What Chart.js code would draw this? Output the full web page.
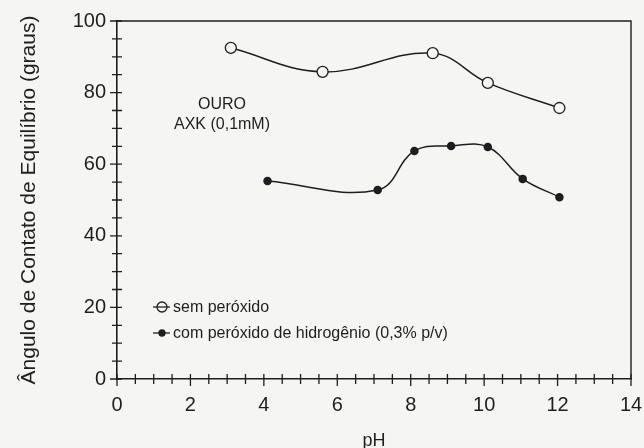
<!DOCTYPE html>
<html>
<head>
<meta charset="utf-8">
<script src="https://cdn.jsdelivr.net/npm/chart.js@4/dist/chart.umd.min.js"></script>
<style>
  html, body { margin: 0; padding: 0; background: #f5f5f3; }
  #wrap { width: 644px; height: 448px; }
</style>
</head>
<body>
<div id="wrap"><canvas id="chart" width="644" height="448"></canvas></div>
<script>
// data
const phSem = [3.1, 5.6, 8.6, 10.1, 12.05];
const anguloSem = [92.5, 85.8, 91.0, 82.7, 75.7];
const phCom = [4.1, 7.1, 8.1, 9.1, 10.1, 11.05, 12.05];
const anguloCom = [55.3, 52.8, 63.7, 65.1, 64.8, 55.9, 50.8];
const legendLabels = ["sem peróxido", "com peróxido de hidrogênio (0,3% p/v)"];
const noteLines = ["OURO", "AXK (0,1mM)"];

const ink = "#1e1e1e";
const font = "'Liberation Sans', Arial, sans-serif";

// minor/major ticks crossing the axis, the box and the text inside the plot
const extras = {
    id: "extras",
    afterDraw(chart) {
        const ctx = chart.ctx;
        const x = chart.scales.x, y = chart.scales.y;
        const a = chart.chartArea;
        ctx.save();
        ctx.strokeStyle = ink;
        ctx.lineWidth = 1.4;
        ctx.beginPath();
        ctx.moveTo(a.left, a.top); ctx.lineTo(a.right, a.top); ctx.lineTo(a.right, a.bottom);
        ctx.stroke();

        ctx.lineWidth = 1.3;
        ctx.beginPath();
        for (let v = 0; v <= 14.001; v += 0.5) {
            const px = x.getPixelForValue(v);
            const major = Math.abs(v - Math.round(v / 2) * 2) < 0.01;
            ctx.moveTo(px, a.bottom - 5);
            ctx.lineTo(px, a.bottom + (major ? 7 : 5));
        }
        for (let v = 0; v <= 100.001; v += 5) {
            const py = y.getPixelForValue(v);
            const major = v % 20 === 0;
            ctx.moveTo(a.left - (major ? 7 : 5), py);
            ctx.lineTo(a.left + 5, py);
        }
        ctx.stroke();

        // note
        ctx.fillStyle = ink;
        ctx.font = "16px " + font;
        ctx.textAlign = "center";
        ctx.textBaseline = "middle";
        ctx.fillText(noteLines[0], 222, 105);
        ctx.fillText(noteLines[1], 222, 125);

        // legend
        const rows = [
            { y: 307, filled: false },
            { y: 333, filled: true }
        ];
        ctx.textAlign = "left";
        ctx.font = "16px " + font;
        rows.forEach((r, i) => {
            ctx.beginPath();
            ctx.moveTo(153, r.y); ctx.lineTo(170, r.y);
            ctx.stroke();
            ctx.beginPath();
            ctx.arc(162, r.y, r.filled ? 3 : 5, 0, Math.PI * 2);
            if (r.filled) { ctx.fillStyle = ink; ctx.fill(); }
            ctx.stroke();
            ctx.fillStyle = ink;
            ctx.fillText(legendLabels[i], 173, r.y + 1);
        });
        ctx.restore();
    }
};

new Chart(document.getElementById("chart"), {
    type: "scatter",
    data: {
        datasets: [
            {
                label: legendLabels[0],
                data: phSem.map((p, i) => ({ x: p, y: anguloSem[i] })),
                showLine: true,
                tension: 0.4,
                borderColor: ink,
                borderWidth: 1.5,
                pointRadius: 5.5,
                pointBorderWidth: 1.3,
                pointBackgroundColor: "#f5f5f3",
                pointBorderColor: ink
            },
            {
                label: legendLabels[1],
                data: phCom.map((p, i) => ({ x: p, y: anguloCom[i] })),
                showLine: true,
                tension: 0.4,
                borderColor: ink,
                borderWidth: 1.5,
                pointRadius: 3.5,
                pointBackgroundColor: ink,
                pointBorderColor: ink
            }
        ]
    },
    options: {
        responsive: false,
        animation: false,
        layout: { padding: { top: 21, right: 13 } },
        plugins: { legend: { display: false }, tooltip: { enabled: false } },
        scales: {
            x: {
                type: "linear",
                min: 0, max: 14,
                afterFit(s) { s.height = 69; s.paddingLeft = 0; s.paddingRight = 0; },
                grid: { display: false, drawTicks: false },
                border: { display: true, color: ink, width: 1.6 },
                ticks: { stepSize: 2, color: ink, padding: 14, font: { size: 20, family: font } },
                title: { display: true, text: "pH", color: ink, font: { size: 18, family: font }, padding: { top: 4, bottom: -4 } }
            },
            y: {
                min: 0, max: 100,
                afterFit(s) { s.width = 117; s.paddingTop = 0; s.paddingBottom = 0; },
                grid: { display: false, drawTicks: false },
                border: { display: true, color: ink, width: 1.6 },
                ticks: { stepSize: 20, color: ink, padding: 11, font: { size: 20, family: font } },
                title: { display: true, text: "Ângulo de Contato de Equilíbrio (graus)", color: ink, font: { size: 21, family: font }, padding: { top: 17, bottom: 0 } }
            }
        }
    },
    plugins: [extras]
});
</script>
</body>
</html>
